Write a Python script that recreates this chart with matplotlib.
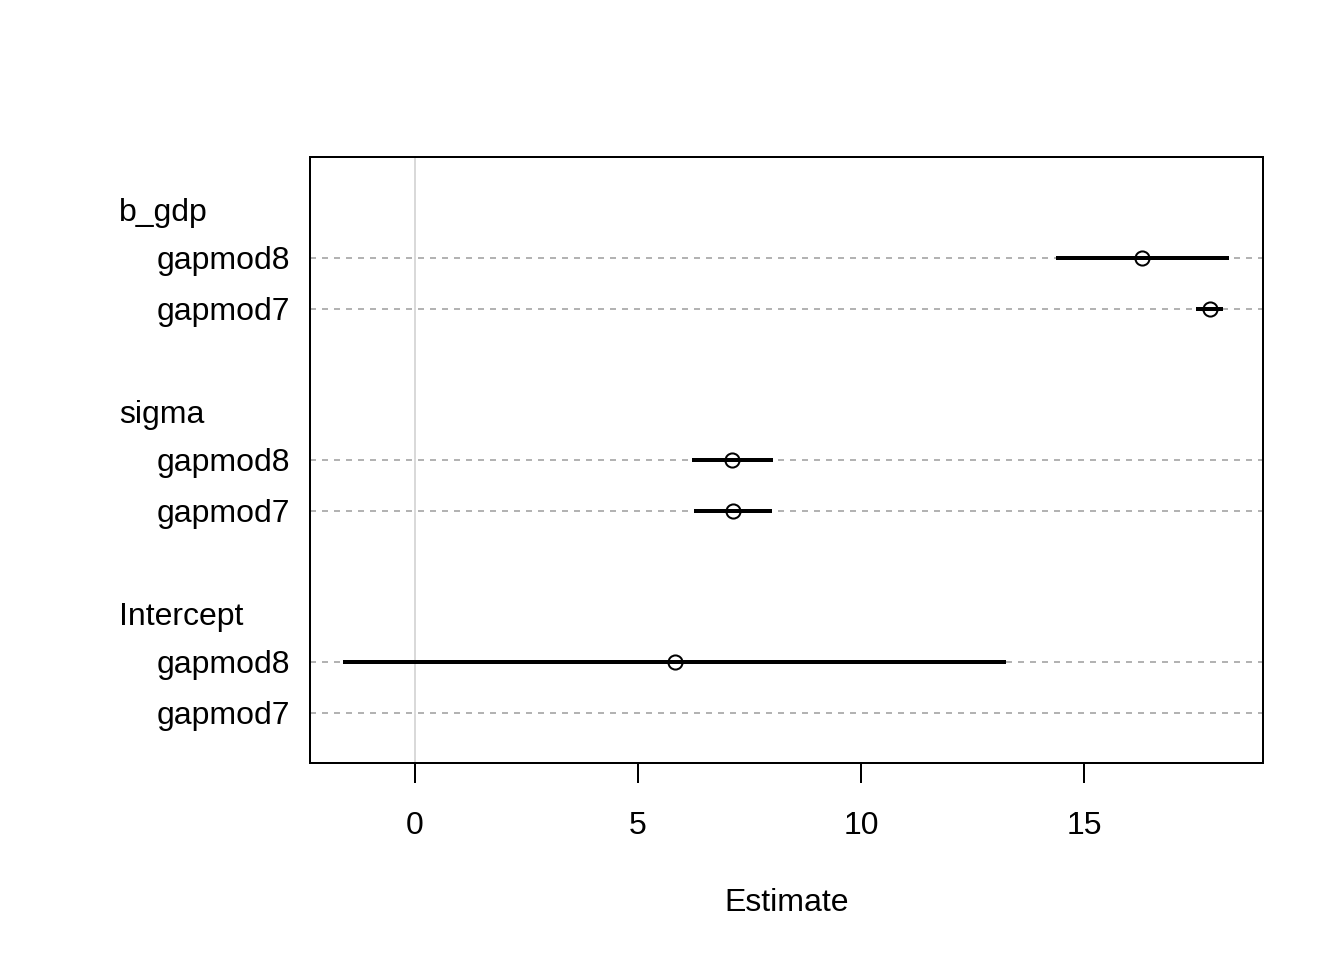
import numpy as np
import matplotlib
matplotlib.use("Agg")
import matplotlib.pyplot as plt
import matplotlib.transforms as mtransforms

plt.rcParams['font.family'] = ['Liberation Sans', 'DejaVu Sans']
plt.rcParams['font.size'] = 12

params = ["b_gdp", "sigma", "Intercept"]
models = ["gapmod8", "gapmod7"]
# estimates and interval bounds, per parameter, per model
est = [[16.30, 17.82], [7.11, 7.13], [5.83, np.nan]]
lower = [[14.37, 17.51], [6.21, 6.26], [-1.61, np.nan]]
upper = [[18.25, 18.12], [8.03, 8.00], [13.25, np.nan]]

fig = plt.figure(figsize=(7, 5), dpi=192)
ax = fig.add_axes([310/1344, 1-763/960, (1263-310)/1344, (763-157)/960])

ax.set_xlim(-2.35, 19.01)
ax.set_ylim(0, 12)
ax.axvline(0, color="#d9d9d9", lw=0.75, zorder=0)

lab_tr = mtransforms.blended_transform_factory(ax.transAxes, ax.transData)
y = 11
for i, p in enumerate(params):
    ax.text(-0.2004, y - 0.03, p, transform=lab_tr, ha="left", va="center_baseline", clip_on=False)
    y -= 1
    for j, m in enumerate(models):
        ax.axhline(y, color="#b3b3b3", lw=0.75, ls=(0, (3, 3)), zorder=1)
        ax.text(-0.021, y, m, transform=lab_tr, ha="right", va="center_baseline", clip_on=False)
        if not np.isnan(est[i][j]):
            ax.plot([lower[i][j], upper[i][j]], [y, y], color="black", lw=1.5,
                    solid_capstyle="butt", zorder=2)
            ax.plot(est[i][j], y, "o", ms=5.3, mfc="none", mec="black", mew=0.75, zorder=3)
        y -= 1
    y -= 1

ax.set_yticks([])
ax.set_xticks([0, 5, 10, 15])
ax.tick_params(axis="x", length=7.5, width=0.75, pad=10.5, labelsize=12)
for s in ax.spines.values():
    s.set_linewidth(0.75)
ax.set_xlabel("Estimate", labelpad=17.5)

fig.savefig("out.png", dpi=192)
